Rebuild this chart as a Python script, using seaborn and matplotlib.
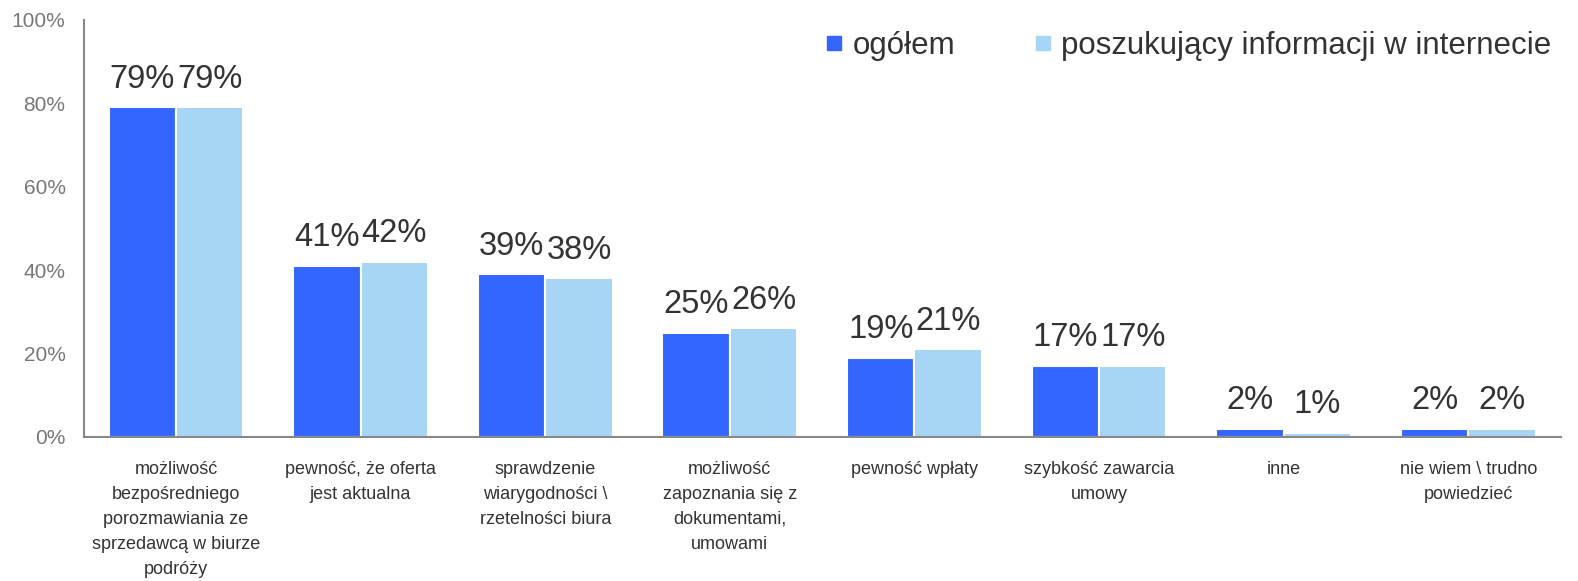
import pandas as pd
import numpy as np
import matplotlib.pyplot as plt
import seaborn as sns
from matplotlib.lines import Line2D

# Dane
categories = [
    "możliwość\nbezpośredniego\nporozmawiania ze\nsprzedawcą w biurze\npodróży",
    "pewność, że oferta\njest aktualna",
    "sprawdzenie\nwiarygodności \\\nrzetelności biura",
    "możliwość\nzapoznania się z\ndokumentami,\numowami",
    "pewność wpłaty",
    "szybkość zawarcia\numowy",
    "inne",
    "nie wiem \\ trudno\npowiedzieć",
]
series_names = ["ogółem", "poszukujący informacji w internecie"]
ogolem = [79, 41, 39, 25, 19, 17, 2, 2]
internet = [79, 42, 38, 26, 21, 17, 1, 2]
yticks = [0, 20, 40, 60, 80, 100]

colors = {"ogółem": "#3366FF", "poszukujący informacji w internecie": "#A6D5F5"}

df = pd.DataFrame({
    "kategoria": categories * 2,
    "seria": [series_names[0]] * len(categories) + [series_names[1]] * len(categories),
    "wartosc": ogolem + internet,
})

sns.set_style("white")
plt.rcParams['font.family'] = ['Liberation Sans', 'DejaVu Sans']

fig = plt.figure(figsize=(15.78, 5.81), dpi=100)
ax = fig.add_axes([0.053, 0.248, 0.936, 0.718])

sns.barplot(data=df, x="kategoria", y="wartosc", hue="seria", palette=colors,
            saturation=1, width=0.73, edgecolor="white", linewidth=1.5, ax=ax, legend=False)

for cont in ax.containers:
    ax.bar_label(cont, labels=[f"{v:.0f}%" for v in cont.datavalues],
                 padding=9, fontsize=23.5, color="#333333")

ax.set_ylim(0, 100)
ax.set_xlim(-0.5, len(categories) - 0.5)
ax.set_yticks(yticks)
ax.set_yticklabels([f"{t}%" for t in yticks], fontsize=15, color="#777777")
ax.tick_params(axis='y', length=0, pad=13)
ax.tick_params(axis='x', length=0, pad=17)
ax.set_xticklabels(categories, fontsize=13, color="#333333", linespacing=1.62, va="top")
ax.set_xlabel("")
ax.set_ylabel("")

for s in ["top", "right"]:
    ax.spines[s].set_visible(False)
for s in ["left", "bottom"]:
    ax.spines[s].set_color("#888888")
    ax.spines[s].set_linewidth(1.5)

handles = [Line2D([0], [0], marker="s", linestyle="", markersize=10,
                  markerfacecolor=colors[n], markeredgecolor=colors[n]) for n in series_names]
ax.legend(handles, series_names, loc="upper right", bbox_to_anchor=(1.013, 1.04), ncol=2,
          frameon=False, fontsize=22.5, handletextpad=0.1, handlelength=1.0,
          columnspacing=2.3, labelcolor="#333333")

plt.savefig("out.png", dpi=100)
plt.close()
